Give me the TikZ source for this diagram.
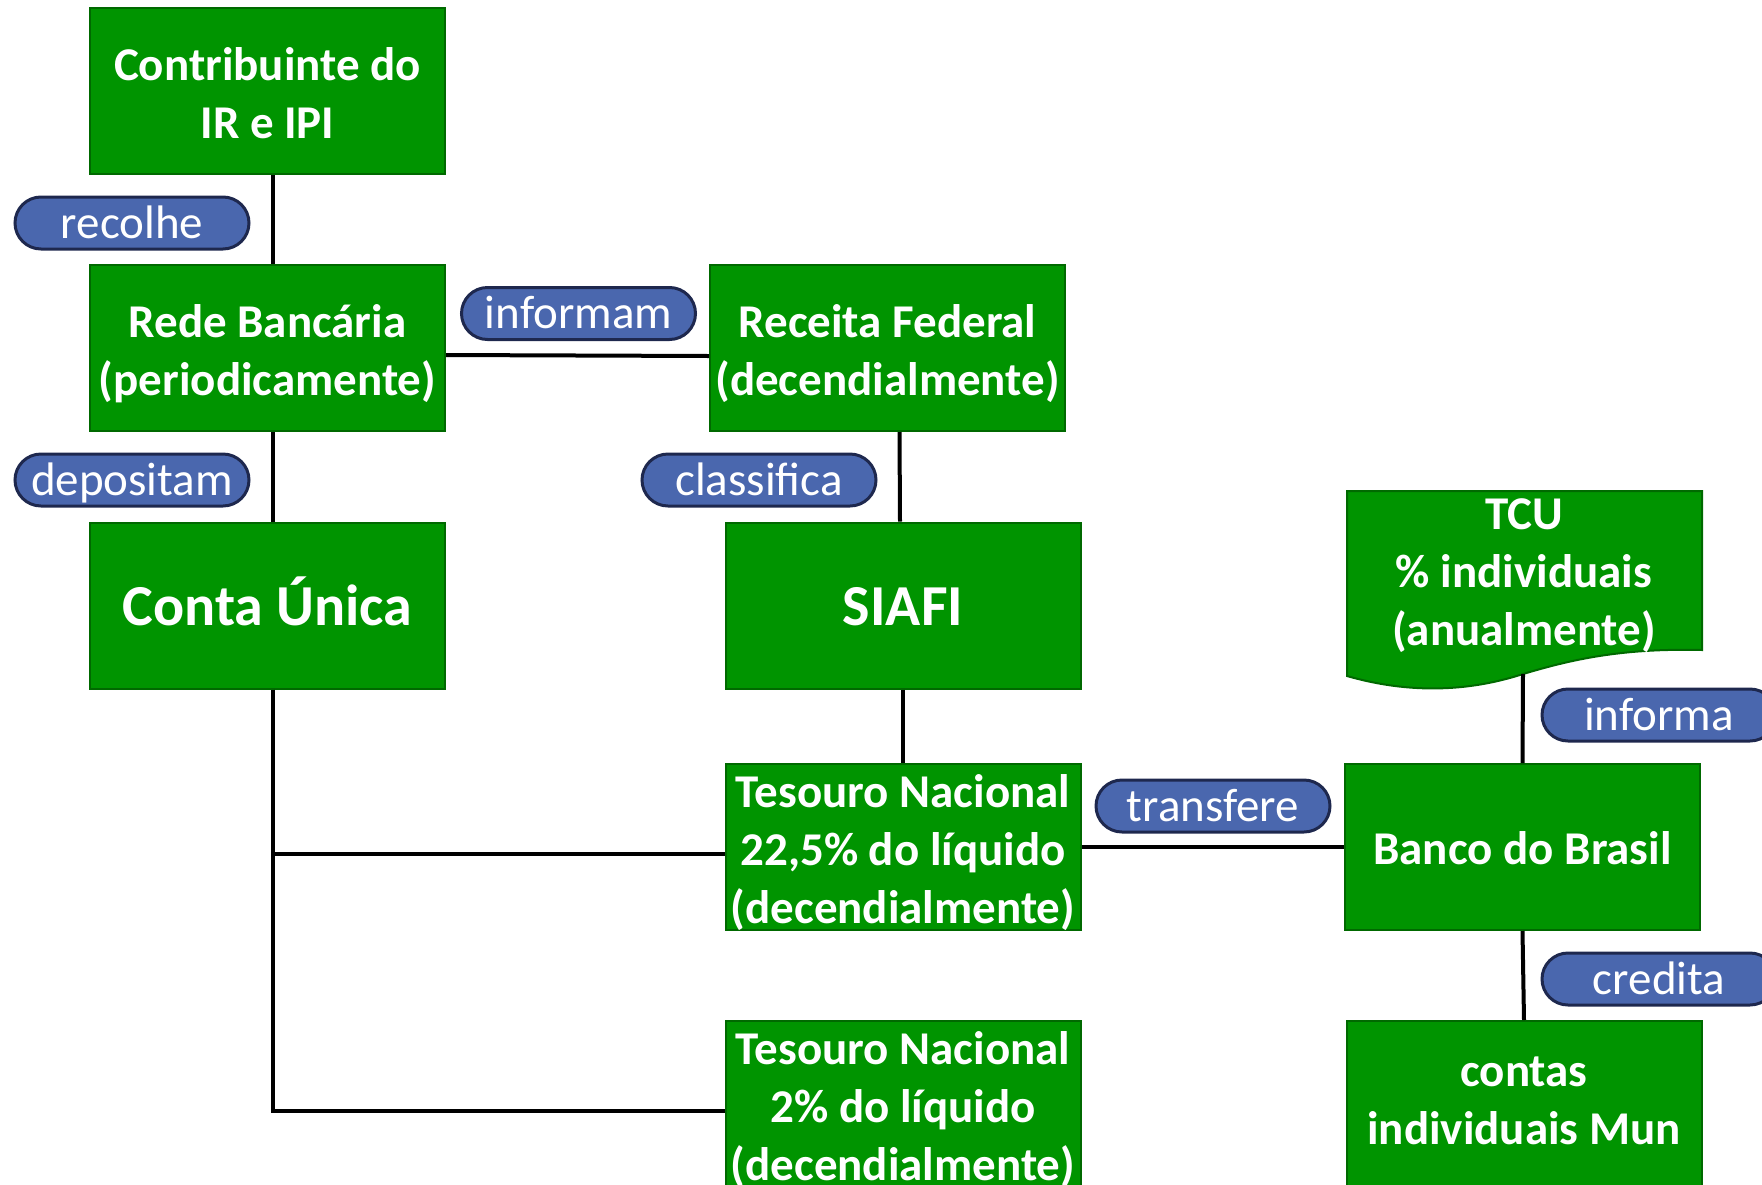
\documentclass[tikz,border=0pt]{standalone}
\usepackage{fontspec}
\setmainfont{Carlito}
\definecolor{boxgreen}{RGB}{0,148,0}
\definecolor{boxedge}{RGB}{0,105,0}
\definecolor{pillfill}{RGB}{74,103,174}
\definecolor{pilledge}{RGB}{30,40,78}
\newcommand{\ml}[1]{\begin{tabular}{@{}c@{}}#1\end{tabular}}
\tikzset{
  gbox/.style={rectangle, fill=boxgreen, draw=boxedge, line width=2pt,
    minimum width=355pt, minimum height=166pt, inner sep=0pt},
  gtext/.style={inner sep=0pt, text=white, font=\fontsize{47}{58}\selectfont\bfseries},
  bigtext/.style={inner sep=0pt, text=white, font=\fontsize{58}{70}\selectfont\bfseries},
  pill/.style={rectangle, rounded corners=26pt, fill=pillfill, draw=pilledge, line width=3pt,
    minimum width=234pt, minimum height=52pt, inner sep=0pt},
  ptext/.style={inner sep=0pt, text=white, font=\fontsize{47}{58}\selectfont},
  conn/.style={draw=black, line width=4pt},
}
\begin{document}
\begin{tikzpicture}[x=1pt,y=-1pt]
\useasboundingbox (0,0) rectangle (1762,1184);
% boxes
\node[gbox] (contrib) at (267.5,91) {};
\node[gtext] (contribt) at ([yshift=-6.5pt]contrib.center) {\ml{Contribuinte do\\IR e IPI}};
\node[gbox] (rede) at (267.5,348) {};
\node[gtext] (redet) at ([yshift=-6.5pt]rede.center) {\ml{Rede Bancária\\(periodicamente)}};
\node[gbox] (conta) at (267.5,605.5) {};
\node[bigtext] (contat) at ([yshift=-5.6pt]conta.center) {\ml{Conta Única}};
\node[gbox] (receita) at (887.5,348) {};
\node[gtext] (receitat) at ([yshift=-6.5pt]receita.center) {\ml{Receita Federal\\(decendialmente)}};
\node[gbox] (siafi) at (903,605.5) {};
\node[bigtext] (siafit) at ([yshift=-5.6pt]siafi.center) {\ml{SIAFI}};
\node[gbox] (tes1) at (903,847) {};
\node[gtext] (tes1t) at ([yshift=-6.5pt]tes1.center) {\ml{Tesouro Nacional\\22,5\% do líquido\\(decendialmente)}};
\node[gbox] (tes2) at (903,1104) {};
\node[gtext] (tes2t) at ([yshift=-6.5pt]tes2.center) {\ml{Tesouro Nacional\\2\% do líquido\\(decendialmente)}};
\node[gbox] (banco) at (1522.5,847) {};
\node[gtext] (bancot) at ([yshift=-5.6pt]banco.center) {\ml{Banco do Brasil}};
\node[gbox] (contas) at (1524,1104) {};
\node[gtext] (contast) at (contas.center) {\ml{contas\\individuais Mun}};
% TCU document shape
\path[fill=boxgreen, draw=boxedge, line width=2pt]
  (1347,491) -- (1702,491) -- (1702,650)
  .. controls (1620,648) and (1570,660) .. (1523,674)
  .. controls (1480,688) and (1420,697) .. (1347,676) -- cycle;
\node[gtext] (tcu) at (1524,575.5) {\ml{TCU\\\% individuais\\(anualmente)}};
\coordinate (tcubot) at (1523,674);
% pills
\node[pill] (p1) at (132,223) {};
\node[ptext] (p1t) at ([yshift=-3.4pt]p1.center) {\ml{recolhe}};
\node[pill] (p2) at (132,480) {};
\node[ptext] (p2t) at ([yshift=-3.4pt]p2.center) {\ml{depositam}};
\node[pill] (p3) at (578.5,313.5) {};
\node[ptext] (p3t) at ([yshift=-3.4pt]p3.center) {\ml{informam}};
\node[pill] (p4) at (759,480) {};
\node[ptext] (p4t) at ([yshift=-3.4pt]p4.center) {\ml{classifica}};
\node[pill] (p5) at (1213,806) {};
\node[ptext] (p5t) at ([yshift=-3.4pt]p5.center) {\ml{transfere}};
\node[pill] (p6) at (1659,715) {};
\node[ptext] (p6t) at ([yshift=-3.4pt]p6.center) {\ml{informa}};
\node[pill] (p7) at (1659,979) {};
\node[ptext] (p7t) at ([yshift=-3.4pt]p7.center) {\ml{credita}};
% connectors
\draw[conn] ([xshift=5pt]contrib.south) -- ([xshift=5pt]rede.north);
\draw[conn] ([xshift=5pt]rede.south) -- ([xshift=5pt]conta.north);
\draw[conn] ([yshift=-7pt]rede.east) -- ([yshift=-8pt]receita.west);
\draw[conn] ([xshift=12pt]receita.south) -- ([xshift=-3pt]siafi.north);
\draw[conn] (siafi.south) -- (tes1.north);
\draw[conn] ([xshift=5pt]conta.south) |- ([yshift=-7pt]tes1.west);
\draw[conn] ([xshift=5pt]conta.south) |- ([yshift=-7pt]tes2.west);
\draw[conn] (tes1.east) -- (banco.west);
\draw[conn] (tcubot) -- (banco.north);
\draw[conn] (banco.south) -- (contas.north);
\end{tikzpicture}
\end{document}
